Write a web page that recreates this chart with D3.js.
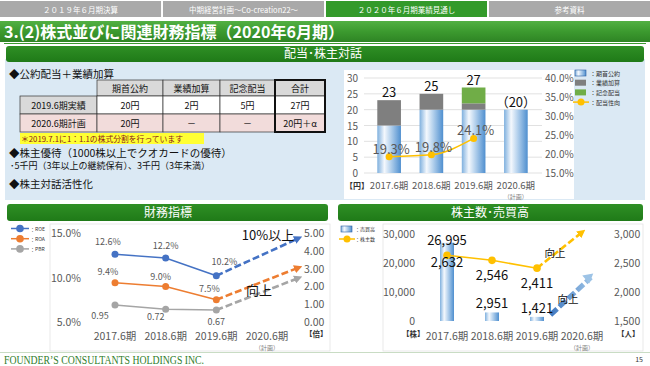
<!DOCTYPE html>
<html><head><meta charset="utf-8">
<script src="https://cdn.jsdelivr.net/npm/d3@7"></script>
<style>
html,body{margin:0;padding:0;background:#fff;}
svg text{font-family:"Noto Sans CJK JP","Noto Sans",sans-serif;}
svg text.serif{font-family:"Liberation Serif","DejaVu Serif",serif;}
</style></head>
<body><svg id="c" width="650" height="366"></svg>
<script>
// ---------- data ----------
const tabs = ["２０１９年６月期決算", "中期経営計画～Co-creation22～", "２０２０年６月期業績見通し", "参考資料"];
const activeTab = 2;
const titleText = "3.(2)株式並びに関連財務指標（2020年6月期）";
const periods = ["2017.6期", "2018.6期", "2019.6期", "2020.6期"];
const planNote = "（計画）";

const tableHeader = ["期首公約", "業績加算", "記念配当", "合計"];
const tableRow1 = ["2019.6期実績", "20円", "2円", "5円", "27円"];
const tableRow2 = ["2020.6期計画", "20円", "－", "－", "20円＋α"];

const divBase = [15, 20, 20, 20];
const divPerf = [8, 5, 2, 0];
const divMemo = [0, 0, 5, 0];
const divTotalLabels = ["23", "25", "27", "（20）"];
const payout = [19.3, 19.8, 24.1];
const divTicksL = [0, 5, 10, 15, 20, 25, 30];
const divTicksR = [15, 20, 25, 30, 35, 40];
const divLegend = ["：期首公約", "：業績加算", "：記念配当", "：配当性向"];

const roe = [12.6, 12.2, 10.2];
const roa = [9.4, 9.0, 7.5];
const pbr = [0.95, 0.72, 0.67];
const roeTarget = 14.4, roaTarget = 11.1, pbrTarget = 2.47;
const finTicksL = [5, 10, 15];
const finTicksR = [0, 1, 2, 3, 4, 5];
const finLegend = ["：ROE", "：ROA", "：PBR"];

const volume = [26995, 2951, 1421];
const holders = [2632, 2546, 2411];
const holdersTarget = 3030;
const volumeArrow = [2100, 15000];
const shTicksL = [0, 10000, 20000, 30000];
const shTicksR = [1500, 2000, 2500, 3000];
const shLegend = ["：売買高", "：株主数"];

// ---------- setup ----------
const svg = d3.select("#c");
const defs = svg.append("defs");
function hgrad(id, stops) {
  const g = defs.append("linearGradient").attr("id", id).attr("x1", "0").attr("x2", "1").attr("y1", "0").attr("y2", "0");
  stops.forEach(s => g.append("stop").attr("offset", s[0]).attr("stop-color", s[1]));
}
function vgrad(id, stops) {
  const g = defs.append("linearGradient").attr("id", id).attr("x1", "0").attr("x2", "0").attr("y1", "0").attr("y2", "1");
  stops.forEach(s => g.append("stop").attr("offset", s[0]).attr("stop-color", s[1]));
}
hgrad("barBlue", [[0, "#7fb0de"], [0.3, "#f4f8fd"], [0.55, "#b9d4ee"], [1, "#4f8fcf"]]);
vgrad("titleG", [[0, "#52b043"], [0.5, "#3c9a2f"], [1, "#2e8424"]]);
vgrad("hdrG", [[0, "#2f8f25"], [1, "#1f7a18"]]);
hgrad("arrowBlue", [[0, "#3f78c0"], [1, "#9dc3e6"]]);
function marker(id, color) {
  defs.append("marker").attr("id", id).attr("viewBox", "0 0 10 10").attr("refX", 5).attr("refY", 5)
    .attr("markerWidth", 3.2).attr("markerHeight", 3.2).attr("orient", "auto")
    .append("path").attr("d", "M0,0L10,5L0,10z").attr("fill", color);
}
marker("mROE", "#4472c4"); marker("mROA", "#ed7d31"); marker("mPBR", "#a5a5a5"); marker("mGold", "#ffc000");

// ---------- tabs ----------
const tabX = d3.scaleBand().domain(d3.range(tabs.length)).range([0, 650]).paddingInner(0.012);
svg.selectAll(".tab").data(tabs).join("rect")
  .attr("x", (d, i) => tabX(i)).attr("y", 1).attr("width", tabX.bandwidth()).attr("height", 16)
  .attr("fill", (d, i) => i === activeTab ? "#339a2a" : "#a9a9a9");
svg.selectAll(".tabt").data(tabs).join("text")
  .attr("x", (d, i) => tabX(i) + tabX.bandwidth() / 2).attr("y", 12.5).attr("text-anchor", "middle")
  .attr("font-size", 7.5).attr("fill", "#fff").text(d => d);

// ---------- title ----------
svg.append("rect").attr("x", 0).attr("y", 21).attr("width", 650).attr("height", 21).attr("fill", "url(#titleG)");
svg.append("line").attr("x1", 4).attr("x2", 646).attr("y1", 43.5).attr("y2", 43.5).attr("stroke", "#3a9a30").attr("stroke-width", 1);
svg.append("text").attr("x", 4).attr("y", 38).attr("font-size", 16).attr("font-weight", "bold").attr("fill", "#fff")
  .attr("textLength", 340).attr("lengthAdjust", "spacingAndGlyphs").text(titleText);

// ---------- dividend section ----------
svg.append("rect").attr("x", 5).attr("y", 59).attr("width", 640).attr("height", 141).attr("fill", "#dbe9f4");
svg.append("rect").attr("x", 6).attr("y", 46).attr("width", 638).attr("height", 16).attr("rx", 3).attr("fill", "url(#hdrG)");
svg.append("text").attr("x", 323).attr("y", 58).attr("text-anchor", "middle").attr("font-size", 12).attr("fill", "#fff").text("配当･株主対話");

svg.append("text").attr("x", 9).attr("y", 78).attr("font-size", 10.5).attr("fill", "#111").text("◆公約配当＋業績加算");
// table
const colEdges = [20, 97, 163, 220, 275, 325];
const rowEdges = [80, 96, 114, 132];
const tb = svg.append("g");
tableHeader.forEach((h, i) => {
  tb.append("rect").attr("x", colEdges[i + 1]).attr("y", rowEdges[0]).attr("width", colEdges[i + 2] - colEdges[i + 1])
    .attr("height", rowEdges[1] - rowEdges[0]).attr("fill", "#d9d9d9").attr("stroke", "#333").attr("stroke-width", 0.7);
  tb.append("text").attr("x", (colEdges[i + 1] + colEdges[i + 2]) / 2).attr("y", rowEdges[0] + 11.5).attr("text-anchor", "middle")
    .attr("font-size", 9).attr("fill", "#111").text(h);
});
[tableRow1, tableRow2].forEach((row, r) => {
  row.forEach((v, i) => {
    const fill = r === 1 ? "#f2dcdb" : (i === 0 ? "#d9d9d9" : "#fff");
    tb.append("rect").attr("x", colEdges[i]).attr("y", rowEdges[r + 1]).attr("width", colEdges[i + 1] - colEdges[i])
      .attr("height", rowEdges[r + 2] - rowEdges[r + 1]).attr("fill", fill).attr("stroke", "#333").attr("stroke-width", 0.7);
    tb.append("text").attr("x", (colEdges[i] + colEdges[i + 1]) / 2).attr("y", rowEdges[r + 1] + 12.5).attr("text-anchor", "middle")
      .attr("font-size", 9).attr("fill", "#111").text(v);
  });
});
tb.append("rect").attr("x", colEdges[4]).attr("y", rowEdges[0]).attr("width", colEdges[5] - colEdges[4])
  .attr("height", rowEdges[3] - rowEdges[0]).attr("fill", "none").attr("stroke", "#111").attr("stroke-width", 2);
svg.append("rect").attr("x", 20).attr("y", 133).attr("width", 184).attr("height", 11).attr("fill", "#ffff33");
svg.append("text").attr("x", 21).attr("y", 141.5).attr("font-size", 7.8).attr("fill", "#8b1a1a").text("＊2019.7.1に1：1.1の株式分割を行っています");
svg.append("text").attr("x", 9).attr("y", 157).attr("font-size", 10.5).attr("fill", "#111").text("◆株主優待（1000株以上でクオカードの優待）");
svg.append("text").attr("x", 10).attr("y", 169).attr("font-size", 9).attr("fill", "#111").text("･5千円（3年以上の継続保有）、3千円（3年未満）");
svg.append("text").attr("x", 9).attr("y", 188).attr("font-size", 10.5).attr("fill", "#111").text("◆株主対話活性化");

// dividend chart
svg.append("rect").attr("x", 344).attr("y", 70).attr("width", 230).attr("height", 129).attr("fill", "#fff");
const dX = d3.scaleBand().domain(periods).range([368, 537]).paddingInner(0.44).paddingOuter(0.22);
const dY = d3.scaleLinear().domain([0, 30]).range([173, 78]);
const dY2 = d3.scaleLinear().domain([15, 40]).range([173, 78]);
const dg = svg.append("g");
dg.selectAll(".grid").data(divTicksL).join("line").attr("x1", 364).attr("x2", 542)
  .attr("y1", d => dY(d)).attr("y2", d => dY(d)).attr("stroke", "#d9d9d9").attr("stroke-width", 0.8);
dg.selectAll(".tl").data(divTicksL).join("text").attr("x", 358).attr("y", d => dY(d) + 4).attr("text-anchor", "end")
  .attr("font-size", 10).attr("fill", "#595959").text(d => d);
dg.selectAll(".tr").data(divTicksR).join("text").attr("x", 545).attr("y", d => dY2(d) + 4)
  .attr("font-size", 10).attr("fill", "#595959").text(d => d.toFixed(1) + "%");
const bw = dX.bandwidth();
periods.forEach((p, i) => {
  const x = dX(p);
  dg.append("rect").attr("x", x).attr("y", dY(divBase[i])).attr("width", bw).attr("height", dY(0) - dY(divBase[i])).attr("fill", "url(#barBlue)");
  if (divPerf[i] > 0) dg.append("rect").attr("x", x).attr("y", dY(divBase[i] + divPerf[i])).attr("width", bw)
    .attr("height", dY(divBase[i]) - dY(divBase[i] + divPerf[i])).attr("fill", "#7f7f7f");
  if (divMemo[i] > 0) dg.append("rect").attr("x", x).attr("y", dY(divBase[i] + divPerf[i] + divMemo[i])).attr("width", bw)
    .attr("height", dY(divBase[i] + divPerf[i]) - dY(divBase[i] + divPerf[i] + divMemo[i])).attr("fill", "#70ad47");
  dg.append("text").attr("x", x + bw / 2).attr("y", dY(divBase[i] + divPerf[i] + divMemo[i]) - 3).attr("text-anchor", "middle")
    .attr("font-size", 13).attr("fill", "#111").text(divTotalLabels[i]);
  dg.append("text").attr("x", x + bw / 2).attr("y", 189).attr("text-anchor", "middle").attr("font-size", 9.5).attr("fill", "#595959").text(p);
});
dg.append("text").attr("x", dX(periods[3]) + bw / 2).attr("y", 198.5).attr("text-anchor", "middle").attr("font-size", 6).attr("fill", "#7f7f7f").text(planNote);
dg.append("text").attr("x", 345).attr("y", 189).attr("font-size", 8).attr("font-weight", "bold").attr("fill", "#333").text("【円】");
const pLine = d3.line().x((d, i) => dX(periods[i]) + bw / 2).y(d => dY2(d)).curve(d3.curveMonotoneX);
dg.append("path").attr("d", pLine(payout)).attr("fill", "none").attr("stroke", "#ffc000").attr("stroke-width", 1.5);
dg.selectAll(".pm").data(payout).join("circle").attr("cx", (d, i) => dX(periods[i]) + bw / 2).attr("cy", d => dY2(d)).attr("r", 3.5).attr("fill", "#ffc000");
dg.selectAll(".pt").data(payout).join("text").attr("x", (d, i) => dX(periods[i]) + bw / 2 + 2).attr("y", d => dY2(d) - 3)
  .attr("text-anchor", "middle").attr("font-size", 13).attr("fill", "#595959").text(d => d.toFixed(1) + "%");
// legend
const lg = svg.append("g");
divLegend.forEach((t, i) => {
  const y = 73 + i * 9.7;
  if (i < 3) lg.append("rect").attr("x", 575).attr("y", y - 3).attr("width", 11).attr("height", 6)
    .attr("fill", i === 0 ? "url(#barBlue)" : (i === 1 ? "#7f7f7f" : "#70ad47")).attr("stroke", i === 0 ? "#2e5fa0" : "none").attr("stroke-width", 0.6);
  else {
    lg.append("line").attr("x1", 573).attr("x2", 589).attr("y1", y).attr("y2", y).attr("stroke", "#ffc000").attr("stroke-width", 1.5);
    lg.append("circle").attr("cx", 581).attr("cy", y).attr("r", 3.5).attr("fill", "#ffc000");
  }
  lg.append("text").attr("x", 590).attr("y", y + 2.5).attr("font-size", 6).attr("fill", "#333").text(t);
});

// ---------- financial indicators ----------
svg.append("rect").attr("x", 7).attr("y", 204).attr("width", 321).attr("height", 17).attr("rx", 3).attr("fill", "url(#hdrG)");
svg.append("text").attr("x", 168).attr("y", 217).attr("text-anchor", "middle").attr("font-size", 12).attr("fill", "#fff").text("財務指標");
svg.append("rect").attr("x", 50).attr("y", 224).attr("width", 280).attr("height", 127).attr("fill", "#fff").attr("stroke", "#e3e3e3").attr("stroke-width", 0.8);
const fX = d3.scaleLinear().domain([0, 3]).range([115, 267]);
const fY = d3.scaleLinear().domain([5, 15]).range([322, 233]);
const fY2 = d3.scaleLinear().domain([0, 5]).range([322, 233]);
const fg = svg.append("g");
fg.selectAll(".fl").data(finTicksL).join("text").attr("x", 81).attr("y", d => fY(d) + 4).attr("text-anchor", "end")
  .attr("font-size", 10.5).attr("fill", "#595959").text(d => d.toFixed(1) + "%");
fg.selectAll(".fr").data(finTicksR).join("text").attr("x", 304).attr("y", d => fY2(d) + 4)
  .attr("font-size", 10.5).attr("fill", "#595959").text(d => d.toFixed(2));
periods.forEach((p, i) => fg.append("text").attr("x", fX(i)).attr("y", 340).attr("text-anchor", "middle").attr("font-size", 10.5).attr("fill", "#595959").text(p));
fg.append("text").attr("x", fX(3)).attr("y", 349.5).attr("text-anchor", "middle").attr("font-size", 6).attr("fill", "#7f7f7f").text(planNote);
fg.append("text").attr("x", 305).attr("y", 337).attr("font-size", 7.5).attr("font-weight", "bold").attr("fill", "#333").text("【倍】");
const series = [
  { v: roe, y: fY, c: "#4472c4", t: roeTarget, m: "mROE", f: d => d.toFixed(1) + "%", lab: [[-7, -9], [0, -9], [8, -11]] },
  { v: roa, y: fY, c: "#ed7d31", t: roaTarget, m: "mROA", f: d => d.toFixed(1) + "%", lab: [[-7, -8], [-5, -6], [-7, -8]] },
  { v: pbr, y: fY2, c: "#a5a5a5", t: pbrTarget, m: "mPBR", f: d => d.toFixed(2), lab: [[-15, 14], [-10, 11], [0, 15]] }
];
const arrowEndIdx = 3.62;
series.forEach(s => {
  const ln = d3.line().x((d, i) => fX(i)).y(d => s.y(d));
  fg.append("path").attr("d", ln(s.v)).attr("fill", "none").attr("stroke", s.c).attr("stroke-width", 1.5);
  fg.append("line").attr("x1", fX(2)).attr("y1", s.y(s.v[2])).attr("x2", fX(arrowEndIdx)).attr("y2", s.y(s.t))
    .attr("stroke", s.c).attr("stroke-width", 2.6).attr("stroke-dasharray", "7,3").attr("marker-end", `url(#${s.m})`);
  fg.selectAll(null).data(s.v).join("circle").attr("cx", (d, i) => fX(i)).attr("cy", d => s.y(d)).attr("r", 3.5).attr("fill", s.c);
  fg.selectAll(null).data(s.v).join("text").attr("x", (d, i) => fX(i) + s.lab[i][0]).attr("y", (d, i) => s.y(d) + s.lab[i][1])
    .attr("text-anchor", "middle").attr("font-size", 9).attr("fill", "#595959").text(s.f);
});
fg.append("text").attr("x", 268).attr("y", 240).attr("text-anchor", "middle").attr("font-size", 13).attr("fill", "#111").text("10%以上");
fg.append("text").attr("x", 259).attr("y", 295).attr("text-anchor", "middle").attr("font-size", 13).attr("fill", "#111").text("向上");
finLegend.forEach((t, i) => {
  const y = 228.5 + i * 10.2;
  const c = series[i].c;
  fg.append("line").attr("x1", 11).attr("x2", 29).attr("y1", y).attr("y2", y).attr("stroke", c).attr("stroke-width", 1.5);
  fg.append("circle").attr("cx", 20).attr("cy", y).attr("r", 3.8).attr("fill", c);
  fg.append("text").attr("x", 30).attr("y", y + 2).attr("font-size", 5).attr("fill", "#333").text(t);
});

// ---------- shareholders / volume ----------
svg.append("rect").attr("x", 338).attr("y", 204).attr("width", 305).attr("height", 17).attr("rx", 3).attr("fill", "url(#hdrG)");
svg.append("text").attr("x", 490).attr("y", 217).attr("text-anchor", "middle").attr("font-size", 12).attr("fill", "#fff").text("株主数･売買高");
svg.append("rect").attr("x", 383).attr("y", 224).attr("width", 260).attr("height", 127).attr("fill", "#fff").attr("stroke", "#e3e3e3").attr("stroke-width", 0.8);
const sX = d3.scaleLinear().domain([0, 3]).range([447, 582]);
const sY = d3.scaleLinear().domain([0, 30000]).range([321, 234]);
const sY2 = d3.scaleLinear().domain([1500, 3000]).range([321, 234]);
const sg = svg.append("g");
sg.selectAll(".sl").data(shTicksL).join("text").attr("x", 415).attr("y", d => sY(d) + 4).attr("text-anchor", "end")
  .attr("font-size", 10.5).attr("fill", "#595959").text(d3.format(","));
sg.selectAll(".sr").data(shTicksR).join("text").attr("x", 614).attr("y", d => sY2(d) + 4)
  .attr("font-size", 10.5).attr("fill", "#595959").text(d3.format(","));
periods.forEach((p, i) => sg.append("text").attr("x", sX(i)).attr("y", 340).attr("text-anchor", "middle").attr("font-size", 10.5).attr("fill", "#595959").text(p));
sg.append("text").attr("x", sX(3)).attr("y", 349.5).attr("text-anchor", "middle").attr("font-size", 6).attr("fill", "#7f7f7f").text(planNote);
sg.append("text").attr("x", 402).attr("y", 337).attr("font-size", 7.5).attr("font-weight", "bold").attr("fill", "#333").text("【株】");
sg.append("text").attr("x", 617).attr("y", 337).attr("font-size", 7.5).attr("font-weight", "bold").attr("fill", "#333").text("【人】");
const sbw = 14;
sg.selectAll(".vb").data(volume).join("rect").attr("x", (d, i) => sX(i) - sbw / 2).attr("y", d => sY(d)).attr("width", sbw)
  .attr("height", d => sY(0) - sY(d)).attr("fill", "url(#barBlue)");
// blue arrow
sg.append("line").attr("x1", sX(2.3)).attr("y1", sY(volumeArrow[0])).attr("x2", sX(3.2)).attr("y2", sY(volumeArrow[1]))
  .attr("stroke", "url(#arrowBlue)").attr("stroke-width", 5).attr("stroke-dasharray", "9,3");
sg.append("path").attr("d", () => {
  const x = sX(3.25), y = sY(volumeArrow[1] + 1400);
  return `M${x},${y}L${x - 11},${y + 2}L${x - 4},${y + 10}Z`;
}).attr("fill", "#9dc3e6");
const hl = d3.line().x((d, i) => sX(i)).y(d => sY2(d));
sg.append("path").attr("d", hl(holders)).attr("fill", "none").attr("stroke", "#ffc000").attr("stroke-width", 1.5);
sg.append("line").attr("x1", sX(2)).attr("y1", sY2(holders[2])).attr("x2", sX(3)).attr("y2", sY2(holdersTarget))
  .attr("stroke", "#ffc000").attr("stroke-width", 2.6).attr("stroke-dasharray", "7,3").attr("marker-end", "url(#mGold)");
sg.selectAll(".hm").data(holders).join("circle").attr("cx", (d, i) => sX(i)).attr("cy", d => sY2(d)).attr("r", 3.8).attr("fill", "#ffc000");
const hOff = [[0, 12], [0, 20], [0, 20]];
sg.selectAll(".ht").data(holders).join("text").attr("x", (d, i) => sX(i) + hOff[i][0]).attr("y", (d, i) => sY2(d) + hOff[i][1])
  .attr("text-anchor", "middle").attr("font-size", 13).attr("fill", "#111").text(d3.format(","));
const vOff = [2, -4, -4];
sg.selectAll(".vt").data(volume).join("text").attr("x", (d, i) => sX(i)).attr("y", (d, i) => sY(d) + vOff[i])
  .attr("text-anchor", "middle").attr("font-size", 13).attr("fill", "#111").text(d3.format(","));
sg.append("text").attr("x", 555).attr("y", 257).attr("text-anchor", "middle").attr("font-size", 10.5).attr("fill", "#111").text("向上");
sg.append("text").attr("x", 568).attr("y", 303).attr("text-anchor", "middle").attr("font-size", 10.5).attr("fill", "#111").text("向上");
shLegend.forEach((t, i) => {
  const y = 229 + i * 10;
  if (i === 0) sg.append("rect").attr("x", 341).attr("y", y - 3).attr("width", 11).attr("height", 6).attr("fill", "url(#barBlue)").attr("stroke", "#2e5fa0").attr("stroke-width", 0.6);
  else {
    sg.append("line").attr("x1", 339).attr("x2", 355).attr("y1", y).attr("y2", y).attr("stroke", "#ffc000").attr("stroke-width", 1.5);
    sg.append("circle").attr("cx", 347).attr("cy", y).attr("r", 3.5).attr("fill", "#ffc000");
  }
  sg.append("text").attr("x", 355).attr("y", y + 2).attr("font-size", 5).attr("fill", "#333").text(t);
});

// ---------- footer ----------
svg.append("line").attr("x1", 0).attr("x2", 650).attr("y1", 352.5).attr("y2", 352.5).attr("stroke", "#c9dcc4").attr("stroke-width", 1);
svg.append("text").attr("class", "serif").attr("x", 4).attr("y", 364).attr("font-size", 12)
  .attr("fill", "#2f7d2a").attr("textLength", 200).attr("lengthAdjust", "spacingAndGlyphs").text("FOUNDER’S CONSULTANTS HOLDINGS INC.");
svg.append("text").attr("x", 643).attr("y", 362).attr("text-anchor", "end").attr("font-size", 7).attr("fill", "#333").text("15");
</script></body></html>
